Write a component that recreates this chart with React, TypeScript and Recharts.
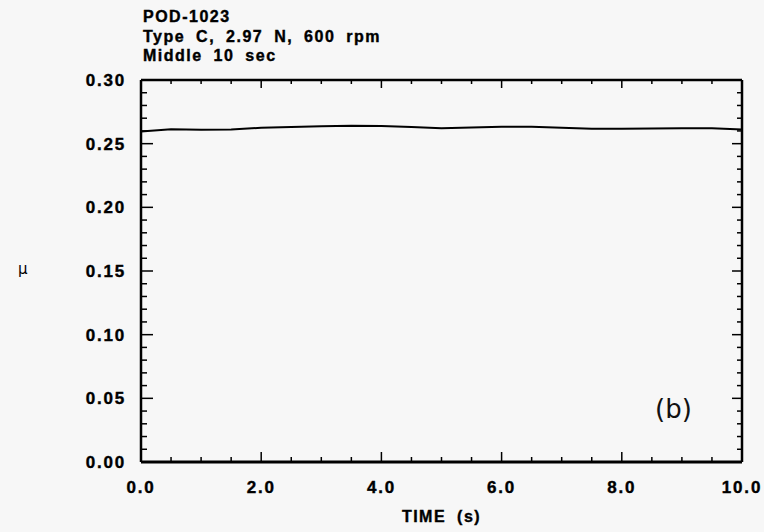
import React from "react";
import { LineChart, Line, XAxis, YAxis } from "recharts";

// friction coefficient over the middle 10 s of the test
const times = [0, 0.5, 1, 1.5, 2, 2.5, 3, 3.5, 4, 4.5, 5, 5.5, 6, 6.5, 7, 7.5, 8, 8.5, 9, 9.5, 10];
const mu = [
  0.2595, 0.2613, 0.2609, 0.2612, 0.2625, 0.2631, 0.2636, 0.2641, 0.2638, 0.263, 0.2622,
  0.2626, 0.2632, 0.2633, 0.2625, 0.2618, 0.2617, 0.262, 0.2622, 0.2621, 0.2612,
];

const xTicks = [0, 0.5, 1, 1.5, 2, 2.5, 3, 3.5, 4, 4.5, 5, 5.5, 6, 6.5, 7, 7.5, 8, 8.5, 9, 9.5, 10];
const xMajor = [0, 2, 4, 6, 8, 10];
const yTicks = [
  0, 0.01, 0.02, 0.03, 0.04, 0.05, 0.06, 0.07, 0.08, 0.09, 0.1, 0.11, 0.12, 0.13, 0.14, 0.15,
  0.16, 0.17, 0.18, 0.19, 0.2, 0.21, 0.22, 0.23, 0.24, 0.25, 0.26, 0.27, 0.28, 0.29, 0.3,
];
const yMajor = [0, 0.05, 0.1, 0.15, 0.2, 0.25, 0.3];

const titleLines = ["POD-1023", "Type C, 2.97 N, 600 rpm", "Middle 10 sec"];

const data = times.map((t, i) => ({ t, mu: mu[i] }));

const isMajor = (v: number, list: number[]) => list.some((m) => Math.abs(m - v) < 1e-6);

const FONT = "'Liberation Sans', Arial, sans-serif";
const labelStyle = { fontFamily: FONT, fontWeight: 700, fontSize: 17, letterSpacing: 1.8 };

const BottomTick = (props: any) => {
  const { x, y, payload } = props;
  const major = isMajor(payload.value, xMajor);
  return (
    <g>
      <line x1={x} x2={x} y1={y} y2={y - (major ? 10 : 5)} stroke="#000" strokeWidth={1.5} />
      {major && (
        <text x={x} y={y + 31} textAnchor="middle" fill="#000" stroke="#000" strokeWidth={0.4} style={labelStyle}>
          {payload.value.toFixed(1)}
        </text>
      )}
    </g>
  );
};

const TopTick = (props: any) => {
  const { x, y, payload } = props;
  const major = isMajor(payload.value, xMajor);
  return <line x1={x} x2={x} y1={y} y2={y + (major ? 8 : 4)} stroke="#000" strokeWidth={1.5} />;
};

const LeftTick = (props: any) => {
  const { x, y, payload } = props;
  const major = isMajor(payload.value, yMajor);
  return (
    <g>
      <line x1={x} x2={x + (major ? 12 : 6)} y1={y} y2={y} stroke="#000" strokeWidth={1.5} />
      {major && (
        <text x={x - 15} y={y + 6} textAnchor="end" fill="#000" stroke="#000" strokeWidth={0.4} style={labelStyle}>
          {payload.value.toFixed(2)}
        </text>
      )}
    </g>
  );
};

const RightTick = (props: any) => {
  const { x, y, payload } = props;
  const major = isMajor(payload.value, yMajor);
  return <line x1={x} x2={x - (major ? 10 : 5)} y1={y} y2={y} stroke="#000" strokeWidth={1.5} />;
};

const boldText = {
  fontFamily: FONT,
  fontWeight: 700,
  fontSize: 16,
  letterSpacing: 1.5,
  wordSpacing: 5,
  WebkitTextStroke: "0.4px #000",
};

export default function App() {
  return (
    <div
      style={{
        position: "absolute",
        left: 0,
        top: 0,
        width: 764,
        height: 532,
        background: "#f7f7f7",
        overflow: "hidden",
      }}
    >
      <div style={{ position: "absolute", left: 143, top: 7, lineHeight: "19.5px", whiteSpace: "nowrap", ...boldText }}>
        {titleLines.map((l) => (
          <div key={l}>{l}</div>
        ))}
      </div>
      <div
        style={{
          position: "absolute",
          left: 18,
          top: 260,
          fontFamily: "'DejaVu Sans', sans-serif",
          fontSize: 15,
        }}
      >
        μ
      </div>
      <div style={{ position: "absolute", left: 0, width: 883, top: 508, textAlign: "center", ...boldText }}>
        TIME (s)
      </div>
      <div
        style={{
          position: "absolute",
          left: 655,
          top: 394,
          fontFamily: "'DejaVu Sans', sans-serif",
          fontSize: 26,
          color: "#111",
        }}
      >
        (b)
      </div>
      <div style={{ position: "absolute", left: 0, top: 0 }}>
        <LineChart width={764} height={532} data={data} margin={{ top: 70, right: 12, bottom: 40, left: 81 }}>
          <XAxis
            dataKey="t"
            type="number"
            domain={[0, 10]}
            ticks={xTicks}
            interval={0}
            height={30}
            tickSize={0}
            tickMargin={0}
            tickLine={false}
            tick={<BottomTick />}
            axisLine={{ stroke: "#000", strokeWidth: 3 }}
          />
          <XAxis
            xAxisId="top"
            orientation="top"
            dataKey="t"
            type="number"
            domain={[0, 10]}
            ticks={xTicks}
            interval={0}
            height={10}
            tickSize={0}
            tickMargin={0}
            tickLine={false}
            tick={<TopTick />}
            axisLine={{ stroke: "#000", strokeWidth: 2.5 }}
          />
          <YAxis
            type="number"
            domain={[0, 0.3]}
            ticks={yTicks}
            interval={0}
            width={60}
            tickSize={0}
            tickMargin={0}
            tickLine={false}
            tick={<LeftTick />}
            axisLine={{ stroke: "#000", strokeWidth: 2.5 }}
          />
          <YAxis
            yAxisId="right"
            orientation="right"
            type="number"
            domain={[0, 0.3]}
            ticks={yTicks}
            interval={0}
            width={10}
            tickSize={0}
            tickMargin={0}
            tickLine={false}
            tick={<RightTick />}
            axisLine={{ stroke: "#000", strokeWidth: 2.5 }}
          />
          <Line
            dataKey="mu"
            type="linear"
            stroke="#000"
            strokeWidth={2}
            dot={false}
            isAnimationActive={false}
          />
          {/* invisible copy so the mirrored frame axes get rendered */}
          <Line
            xAxisId="top"
            yAxisId="right"
            dataKey="mu"
            stroke="none"
            dot={false}
            activeDot={false}
            legendType="none"
            isAnimationActive={false}
          />
        </LineChart>
      </div>
    </div>
  );
}
